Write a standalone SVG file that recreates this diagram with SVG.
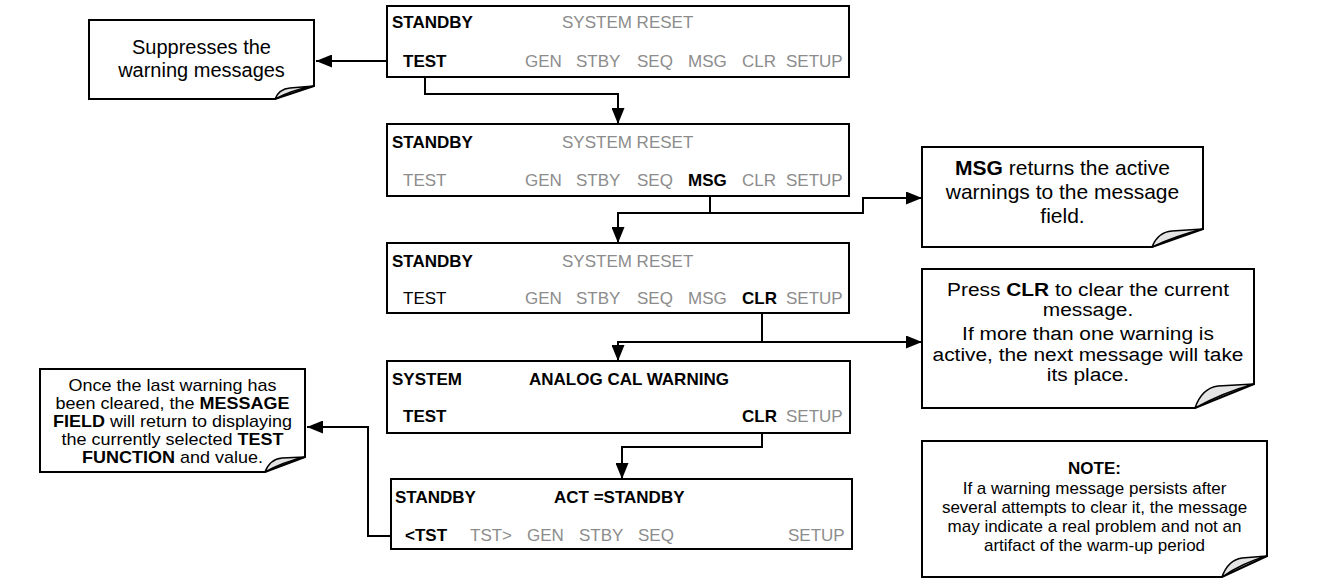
<svg xmlns="http://www.w3.org/2000/svg" width="1331" height="579" viewBox="0 0 1331 579">
<style>
.box{fill:#fff;stroke:#000;stroke-width:2}
.ln{fill:none;stroke:#000;stroke-width:2}
text{font-family:"Liberation Sans",Arial,Helvetica,sans-serif}
.d{font-size:17px}
.b{font-weight:bold;fill:#000}
.g{fill:#8c8c8c}
.k{fill:#000}
.c{text-anchor:middle;fill:#000}
.fold{fill:#e4e4e4;stroke:#000;stroke-width:1.5;stroke-linejoin:round}
</style>
<defs>
<marker id="ah" markerUnits="userSpaceOnUse" markerWidth="16" markerHeight="13" refX="16" refY="6.5" orient="auto">
<path d="M0,0 L16,6.5 L0,13 Z" fill="#000"/>
</marker>
</defs>
<rect width="1331" height="579" fill="#fff"/>

<g id="connectors">
<path class="ln" d="M387,61 H316" marker-end="url(#ah)"/>
<path class="ln" d="M425,68 V94 H618 V124" marker-end="url(#ah)"/>
<path class="ln" d="M710,187 V213 H618 V243" marker-end="url(#ah)"/>
<path class="ln" d="M710,213 H863 V198 H922" marker-end="url(#ah)"/>
<path class="ln" d="M762,305 V342 H618 V361" marker-end="url(#ah)"/>
<path class="ln" d="M762,342 H922" marker-end="url(#ah)"/>
<path class="ln" d="M762,423 V447 H622 V479" marker-end="url(#ah)"/>
<path class="ln" d="M400,536 H368 V427 H307" marker-end="url(#ah)"/>
</g>

<g id="display1">
<rect class="box" x="387" y="6" width="462" height="71"/>
<text class="d b" x="392" y="28">STANDBY</text>
<text class="d g" x="562" y="28">SYSTEM RESET</text>
<text class="d b" x="403" y="67">TEST</text>
<text class="d g" x="525" y="67">GEN</text>
<text class="d g" x="576" y="67">STBY</text>
<text class="d g" x="637" y="67">SEQ</text>
<text class="d g" x="688" y="67">MSG</text>
<text class="d g" x="742" y="67">CLR</text>
<text class="d g" x="786" y="67">SETUP</text>
</g>

<g id="display2">
<rect class="box" x="387" y="124" width="462" height="72"/>
<text class="d b" x="392" y="148">STANDBY</text>
<text class="d g" x="562" y="148">SYSTEM RESET</text>
<text class="d g" x="403" y="186">TEST</text>
<text class="d g" x="525" y="186">GEN</text>
<text class="d g" x="576" y="186">STBY</text>
<text class="d g" x="637" y="186">SEQ</text>
<text class="d b" x="688" y="186">MSG</text>
<text class="d g" x="742" y="186">CLR</text>
<text class="d g" x="786" y="186">SETUP</text>
</g>

<g id="display3">
<rect class="box" x="387" y="243" width="462" height="70"/>
<text class="d b" x="392" y="267">STANDBY</text>
<text class="d g" x="562" y="267">SYSTEM RESET</text>
<text class="d k" x="403" y="304">TEST</text>
<text class="d g" x="525" y="304">GEN</text>
<text class="d g" x="576" y="304">STBY</text>
<text class="d g" x="637" y="304">SEQ</text>
<text class="d g" x="688" y="304">MSG</text>
<text class="d b" x="742" y="304">CLR</text>
<text class="d g" x="786" y="304">SETUP</text>
</g>

<g id="display4">
<rect class="box" x="387" y="361" width="463" height="72"/>
<text class="d b" x="392" y="385">SYSTEM</text>
<text class="d b" x="529" y="385">ANALOG CAL WARNING</text>
<text class="d b" x="403" y="422">TEST</text>
<text class="d b" x="742" y="422">CLR</text>
<text class="d g" x="786" y="422">SETUP</text>
</g>

<g id="display5">
<rect class="box" x="391" y="479" width="461" height="70"/>
<text class="d b" x="395" y="503">STANDBY</text>
<text class="d b" x="554" y="503">ACT =STANDBY</text>
<text class="d b" x="405" y="541">&lt;TST</text>
<text class="d g" x="470" y="541">TST&gt;</text>
<text class="d g" x="527" y="541">GEN</text>
<text class="d g" x="579" y="541">STBY</text>
<text class="d g" x="638" y="541">SEQ</text>
<text class="d g" x="788" y="541">SETUP</text>
</g>

<g id="callout1">
<path class="box" d="M89,20 H314 V86 L275,99 H89 Z"/>
<path class="fold" d="M275,99 Q279,89 290,88 L314,86 Q292,90 275,99 Z"/>
<text class="c" font-size="20" x="201.5" y="54">Suppresses the</text>
<text class="c" font-size="20" x="201.5" y="77">warning messages</text>
</g>

<g id="callout2">
<path class="box" d="M922,147 H1203 V229 L1152,247 H922 Z"/>
<path class="fold" d="M1152,247 Q1158,232 1172,231 L1203,229 Q1175,236 1152,247 Z"/>
<text class="c" font-size="21" x="1062.5" y="175"><tspan font-weight="bold">MSG</tspan> returns the active</text>
<text class="c" font-size="21" x="1062.5" y="199">warnings to the message</text>
<text class="c" font-size="21" x="1062.5" y="223">field.</text>
</g>

<g id="callout3">
<path class="box" d="M922,269 H1254 V384 L1195,408 H922 Z"/>
<path class="fold" d="M1195,408 Q1202,388 1218,386 L1254,384 Q1222,393 1195,408 Z"/>
<g transform="translate(1088,0) scale(1.16,1)">
<text class="c" font-size="18" x="0" y="296">Press <tspan font-weight="bold">CLR</tspan> to clear the current</text>
<text class="c" font-size="18" x="0" y="316.5">message.</text>
<text class="c" font-size="18" x="0" y="340.5">If more than one warning is</text>
<text class="c" font-size="18" x="0" y="361">active, the next message will take</text>
<text class="c" font-size="18" x="0" y="381.5">its place.</text>
</g>
</g>

<g id="callout4">
<path class="box" d="M922,441 H1267 V556 L1222,577 H922 Z"/>
<path class="fold" d="M1222,577 Q1228,560 1242,558 L1267,556 Q1242,563 1222,577 Z"/>
<text class="c" font-size="17" font-weight="bold" x="1094.5" y="474">NOTE:</text>
<text class="c" font-size="17" x="1094.5" y="494">If a warning message persists after</text>
<text class="c" font-size="17" x="1094.5" y="513">several attempts to clear it, the message</text>
<text class="c" font-size="17" x="1094.5" y="532">may indicate a real problem and not an</text>
<text class="c" font-size="17" x="1094.5" y="551">artifact of the warm-up period</text>
</g>

<g id="callout5">
<path class="box" d="M40,369 H305 V457 L265,472 H40 Z"/>
<path class="fold" d="M265,472 Q270,459 282,458 L305,457 Q283,462 265,472 Z"/>
<g transform="translate(172.5,0) scale(1.125,1)">
<text class="c" font-size="16" x="0" y="391">Once the last warning has</text>
<text class="c" font-size="16" x="0" y="409">been cleared, the <tspan font-weight="bold">MESSAGE</tspan></text>
<text class="c" font-size="16" x="0" y="427"><tspan font-weight="bold">FIELD</tspan> will return to displaying</text>
<text class="c" font-size="16" x="0" y="445">the currently selected <tspan font-weight="bold">TEST</tspan></text>
<text class="c" font-size="16" x="0" y="463"><tspan font-weight="bold">FUNCTION</tspan> and value.</text>
</g>
</g>
</svg>
